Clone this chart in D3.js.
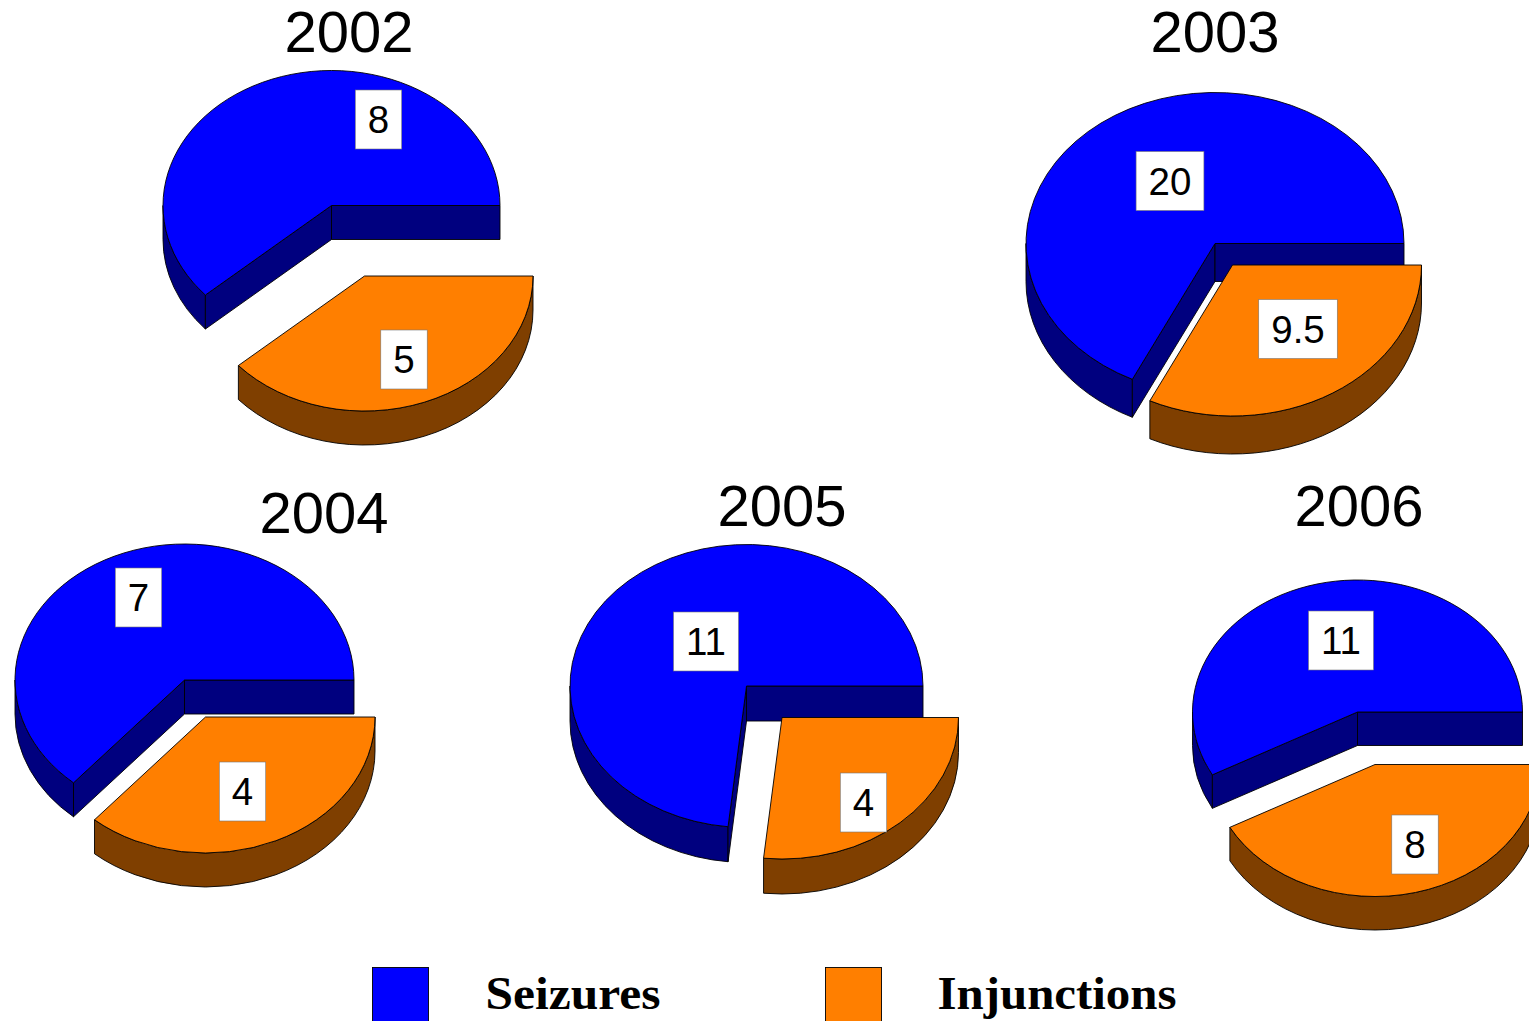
<!DOCTYPE html>
<html><head><meta charset="utf-8">
<script src="https://cdn.jsdelivr.net/npm/d3@7/dist/d3.min.js"></script>
<style>html,body{margin:0;padding:0;background:#fff;overflow:hidden}svg{display:block}</style>
</head><body><svg id="c" width="1529" height="1021"></svg>
<script>
const years = ["2002","2003","2004","2005","2006"];
const seizures = [8,20,7,11,11];
const injunctions = [5,9.5,4,4,8];
const seriesNames = ["Seizures","Injunctions"];
const colors = {top:["#0000ff","#ff7f00"], side:["#00007f","#7f3f00"]};

// layout: centre of blue pie, centre of exploded orange slice, radii, depth
const pieLayout = [
 {cx:331.5,cy:205.5,ox:364.5,oy:276,rx:168.5,ry:135,d:34,tx:349,ty:52,lab:[[378.5,119.5],[404,359.5]]},
 {cx:1215,cy:243.5,ox:1232.5,oy:265,rx:189,ry:151,d:38,tx:1215,ty:52,lab:[[1170,181],[1298,329]]},
 {cx:184.5,cy:680,ox:205.5,oy:717,rx:169.5,ry:136,d:34,tx:324,ty:533,lab:[[138.5,597.5],[242.5,791.5]]},
 {cx:746.5,cy:686,ox:782,oy:717.5,rx:176.5,ry:141.5,d:35,tx:782,ty:526,lab:[[706,641.5],[863.5,802.5]]},
 {cx:1357.5,cy:712,ox:1375,oy:764.5,rx:165,ry:132,d:33.5,tx:1359,ty:526,lab:[[1341,640.5],[1415,844.5]]}
];
const legendLayout = [{x:372.5,tx:485.5,w:175},{x:825.5,tx:937.5,w:239}];

const svg = d3.select("#c");
const sans = "'Liberation Sans',Arial,sans-serif";
const pie = d3.pie().sort(null).startAngle(Math.PI/2).endAngle(Math.PI/2+2*Math.PI);

function pt(cx,cy,L,a){ // d3 angle -> screen point on ellipse
  return [cx+L.rx*Math.sin(a), cy-L.ry*Math.cos(a)];
}
function wall(cx,cy,L,a0,a1){
  const p0=pt(cx,cy,L,a0),p1=pt(cx,cy,L,a1);
  const large=(a1-a0)>Math.PI?1:0;
  return `M${p0}A${L.rx},${L.ry} 0 ${large} 1 ${p1}L${p1[0]},${p1[1]+L.d}A${L.rx},${L.ry} 0 ${large} 0 ${p0[0]},${p0[1]+L.d}Z`;
}
function flat(cx,cy,L,p){
  return `M${cx},${cy}L${p}L${p[0]},${p[1]+L.d}L${cx},${cy+L.d}Z`;
}

years.forEach((y,i)=>{
  const L=pieLayout[i];
  const arcs=pie([injunctions[i],seizures[i]]);
  const inj=arcs[0], sei=arcs[1];
  const g=svg.append("g");
  const arc=d3.arc().innerRadius(0).outerRadius(L.rx);
  const style=s=>s.attr("stroke","#000").attr("stroke-width",0.9).attr("stroke-linejoin","round");

  // blue: outer wall (only the part in the lower half), inner walls, top
  const lowerEnd=Math.PI*1.5;
  if(sei.startAngle<lowerEnd)
    g.append("path").attr("d",wall(L.cx,L.cy,L,sei.startAngle,lowerEnd)).attr("fill",colors.side[0]).call(style);
  g.append("path").attr("d",flat(L.cx,L.cy,L,pt(L.cx,L.cy,L,sei.startAngle))).attr("fill",colors.side[0]).call(style);
  g.append("path").attr("d",flat(L.cx,L.cy,L,pt(L.cx,L.cy,L,sei.endAngle))).attr("fill",colors.side[0]).call(style);
  g.append("path").attr("d",arc(sei))
    .attr("transform",`translate(${L.cx},${L.cy}) scale(1,${L.ry/L.rx})`)
    .attr("vector-effect","non-scaling-stroke").attr("fill",colors.top[0]).call(style);

  // orange
  g.append("path").attr("d",wall(L.ox,L.oy,L,inj.startAngle,inj.endAngle)).attr("fill",colors.side[1]).call(style);
  g.append("path").attr("d",arc(inj))
    .attr("transform",`translate(${L.ox},${L.oy}) scale(1,${L.ry/L.rx})`)
    .attr("vector-effect","non-scaling-stroke").attr("fill",colors.top[1]).call(style);

  // title
  svg.append("text").attr("x",L.tx).attr("y",L.ty-0.5).attr("text-anchor","middle")
    .attr("font-family",sans).attr("font-size",58).attr("fill","#000").text(y);

  // value labels
  [seizures[i],injunctions[i]].forEach((v,k)=>{
    const [lx,ly]=L.lab[k];
    const box=svg.append("rect").attr("fill","#fff").attr("stroke","#777").attr("stroke-width",0.6);
    const t=svg.append("text").attr("x",lx).attr("y",ly+13.5).attr("text-anchor","middle")
      .attr("font-family",sans).attr("font-size",38.5).attr("fill","#000").text(v);
    const w=t.node().getComputedTextLength()+25;
    box.attr("x",lx-w/2).attr("y",ly-29.5).attr("width",w).attr("height",59);
  });
});

// legend
seriesNames.forEach((n,i)=>{
  const l=legendLayout[i];
  svg.append("rect").attr("x",l.x).attr("y",967.5).attr("width",56).attr("height",60)
    .attr("fill",colors.top[i]).attr("stroke","#000").attr("stroke-width",0.9);
  svg.append("text").attr("x",l.tx).attr("y",1009)
    .attr("font-family","'Liberation Serif','DejaVu Serif',serif").attr("font-weight","bold")
    .attr("font-size",46).attr("fill","#000")
    .attr("textLength",l.w).attr("lengthAdjust","spacingAndGlyphs").text(n);
});
</script></body></html>
